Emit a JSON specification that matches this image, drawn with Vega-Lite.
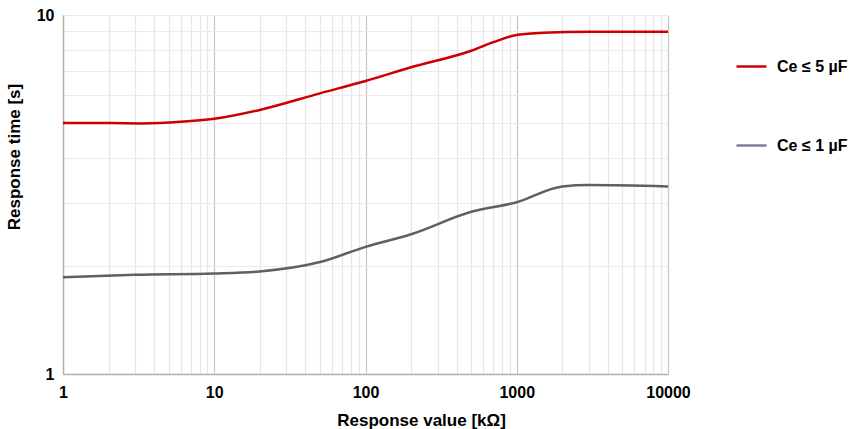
{
  "$schema": "https://vega.github.io/schema/vega-lite/v6.json",
  "width": 605,
  "height": 359,
  "autosize": "none",
  "padding": {"left": 63, "top": 15, "right": 184, "bottom": 55},
  "background": "white",
  "config": {
    "font": "Liberation Sans",
    "view": {"stroke": null},
    "axis": {"labelFont": "Liberation Sans", "titleFont": "Liberation Sans"}
  },
  "data": {"values": [
    {"r": 1, "t": 5.0, "s": "Ce ≤ 5 µF"},
    {"r": 2, "t": 5.0, "s": "Ce ≤ 5 µF"},
    {"r": 3.3, "t": 4.99, "s": "Ce ≤ 5 µF"},
    {"r": 6, "t": 5.04, "s": "Ce ≤ 5 µF"},
    {"r": 10, "t": 5.14, "s": "Ce ≤ 5 µF"},
    {"r": 20, "t": 5.44, "s": "Ce ≤ 5 µF"},
    {"r": 50, "t": 6.05, "s": "Ce ≤ 5 µF"},
    {"r": 100, "t": 6.55, "s": "Ce ≤ 5 µF"},
    {"r": 200, "t": 7.15, "s": "Ce ≤ 5 µF"},
    {"r": 500, "t": 7.95, "s": "Ce ≤ 5 µF"},
    {"r": 700, "t": 8.4, "s": "Ce ≤ 5 µF"},
    {"r": 1000, "t": 8.8, "s": "Ce ≤ 5 µF"},
    {"r": 1500, "t": 8.93, "s": "Ce ≤ 5 µF"},
    {"r": 3000, "t": 8.98, "s": "Ce ≤ 5 µF"},
    {"r": 10000, "t": 8.98, "s": "Ce ≤ 5 µF"},
    {"r": 1, "t": 1.86, "s": "Ce ≤ 1 µF"},
    {"r": 3, "t": 1.89, "s": "Ce ≤ 1 µF"},
    {"r": 10, "t": 1.905, "s": "Ce ≤ 1 µF"},
    {"r": 20, "t": 1.93, "s": "Ce ≤ 1 µF"},
    {"r": 50, "t": 2.05, "s": "Ce ≤ 1 µF"},
    {"r": 100, "t": 2.26, "s": "Ce ≤ 1 µF"},
    {"r": 200, "t": 2.45, "s": "Ce ≤ 1 µF"},
    {"r": 500, "t": 2.83, "s": "Ce ≤ 1 µF"},
    {"r": 1000, "t": 3.01, "s": "Ce ≤ 1 µF"},
    {"r": 2000, "t": 3.33, "s": "Ce ≤ 1 µF"},
    {"r": 3000, "t": 3.36, "s": "Ce ≤ 1 µF"},
    {"r": 10000, "t": 3.33, "s": "Ce ≤ 1 µF"}
  ]},
  "encoding": {
    "x": {
      "field": "r", "type": "quantitative",
      "scale": {"type": "log", "domain": [1, 10000], "nice": false},
      "axis": {
        "title": "Response value [kΩ]",
        "titleFontSize": 17, "titleFontWeight": "bold", "titleColor": "#000",
        "titleX": 358, "titleY": 51, "titleBaseline": "alphabetic", "titleAlign": "center",
        "values": [1,2,3,4,5,6,7,8,9,10,20,30,40,50,60,70,80,90,100,200,300,400,500,600,700,800,900,1000,2000,3000,4000,5000,6000,7000,8000,9000,10000],
        "format": "d",
        "labelExpr": "indexof([1,10,100,1000,10000], datum.value) >= 0 ? datum.label : ''",
        "labelFontSize": 16, "labelFontWeight": "bold", "labelColor": "#000", "labelPadding": 10,
        "labelOverlap": false, "labelFlush": false,
        "ticks": false, "domainColor": "#b5b1a8", "domainWidth": 1.5,
        "grid": true,
        "gridColor": {"condition": {"test": "indexof([10,100,1000,10000], datum.value) >= 0", "value": "#c4c4c4"}, "value": "#e6e6e6"},
        "gridWidth": 1.2
      }
    },
    "y": {
      "field": "t", "type": "quantitative",
      "scale": {"type": "log", "domain": [1, 10], "nice": false},
      "axis": {
        "title": "Response time [s]",
        "titleFontSize": 17, "titleFontWeight": "bold", "titleColor": "#000",
        "titleX": -43.5, "titleY": 141.5, "titleAngle": -90, "titleBaseline": "alphabetic", "titleAlign": "center",
        "values": [1,2,3,4,5,6,7,8,9,10],
        "format": "d",
        "labelExpr": "indexof([1,10], datum.value) >= 0 ? datum.label : ''",
        "labelFontSize": 16, "labelFontWeight": "bold", "labelColor": "#000", "labelPadding": 9,
        "labelOverlap": false, "labelFlush": false,
        "ticks": false, "domainColor": "#b5b1a8", "domainWidth": 1.5,
        "grid": true, "gridColor": "#ecebe6", "gridWidth": 1.2
      }
    }
  },
  "layer": [
    {
      "mark": {"type": "line", "interpolate": "monotone", "strokeWidth": 1},
      "encoding": {
        "color": {
          "field": "s", "type": "nominal",
          "scale": {"domain": ["Ce ≤ 5 µF", "Ce ≤ 1 µF"], "range": ["#cc0000", "#7a7f96"]},
          "legend": {
            "title": null, "orient": "none", "legendX": 672, "legendY": 35,
            "symbolType": "stroke", "symbolSize": 900, "symbolStrokeWidth": 2.5,
            "labelFontSize": 16, "labelFontWeight": "bold", "labelColor": "#000", "labelOffset": 9,
            "rowPadding": 54
          }
        }
      }
    },
    {
      "mark": {"type": "line", "interpolate": "monotone", "strokeWidth": 2.5},
      "encoding": {
        "stroke": {
          "field": "s", "type": "nominal",
          "scale": {"domain": ["Ce ≤ 5 µF", "Ce ≤ 1 µF"], "range": ["#cc0000", "#606060"]},
          "legend": null
        }
      }
    }
  ]
}
